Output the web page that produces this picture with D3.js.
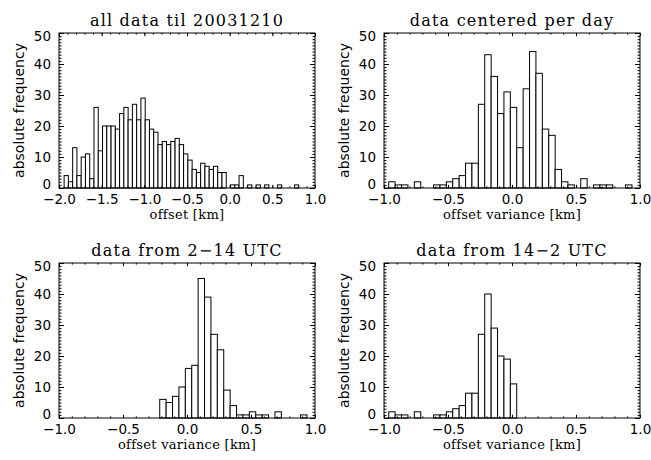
<!DOCTYPE html>
<html>
<head>
<meta charset="utf-8">
<script src="https://cdn.jsdelivr.net/npm/d3@7"></script>
<style>
  html, body { margin: 0; padding: 0; background: #fff; }
  svg { display: block; }
</style>
</head>
<body>
<svg id="chart" width="651" height="460"></svg>
<script>
// Histogram counts of the offset, one value per 0.05 km bin.
const binWidth = 0.05;

// all data til 20031210 (offset, km)
const allStart = -1.94;
const allCounts = [4, 2, 13, 4, 10, 11, 3, 26, 12, 20, 20, 20, 19, 24, 26, 22, 27, 22, 29, 22,
                   19, 18, 14, 15, 14, 15, 16, 14, 11, 9, 6, 5, 8, 7, 6, 7, 5, 5, 0, 1,
                   1, 4, 0, 1, 0, 1, 0, 1, 0, 0, 1, 0, 0, 0, 1];

// data centered per day (offset variance, km)
const centeredStart = -0.963;
const centeredCounts = [2, 1, 1, 0, 2, 0, 0, 1, 1, 2, 3, 4, 8, 8, 27, 43, 36, 24, 31, 26,
                        13, 32, 44, 37, 19, 17, 6, 2, 1, 0, 3, 0, 1, 1, 1, 0, 0, 1];

// data from 2-14 UTC
const dayStart = -0.213;
const dayCounts = [6, 5, 7, 10, 16, 17, 45, 39, 27, 22, 9, 4, 1, 1, 2, 1, 1, 0, 2, 0, 0, 0, 1];

// data from 14-2 UTC
const nightStart = -0.963;
const nightCounts = [2, 1, 1, 0, 2, 0, 0, 1, 1, 2, 3, 4, 8, 8, 27, 40, 29, 20, 19, 11];

const panelTitles = ["all data til 20031210", "data centered per day",
                     "data from 2\u221214 UTC", "data from 14\u22122 UTC"];
const xTitles = ["offset [km]", "offset variance [km]", "offset variance [km]", "offset variance [km]"];
const yTitle = "absolute frequency";

const xTicksWide = [-2.0, -1.5, -1.0, -0.5, 0.0, 0.5, 1.0];
const xTicksNarrow = [-1.0, -0.5, 0.0, 0.5, 1.0];
const yTicks = [0, 10, 20, 30, 40, 50];

const panels = [
  { title: panelTitles[0], xTitle: xTitles[0], start: allStart, counts: allCounts,
    domain: [-2, 1], ticks: xTicksWide, col: 0, row: 0 },
  { title: panelTitles[1], xTitle: xTitles[1], start: centeredStart, counts: centeredCounts,
    domain: [-1, 1], ticks: xTicksNarrow, col: 1, row: 0 },
  { title: panelTitles[2], xTitle: xTitles[2], start: dayStart, counts: dayCounts,
    domain: [-1, 1], ticks: xTicksNarrow, col: 0, row: 1 },
  { title: panelTitles[3], xTitle: xTitles[3], start: nightStart, counts: nightCounts,
    domain: [-1, 1], ticks: xTicksNarrow, col: 1, row: 1 }
];

// layout of one cell of the 2x2 grid
const cellW = 325, cellH = 230;
const L = 59, R = 315, T = 33, B = 188;
const ink = "#000";
const sans = "'DejaVu Sans', sans-serif";
const serif = "'DejaVu Serif', serif";

const svg = d3.select("#chart");
const fmt = d3.format(".1f");

function minorValues(domain, step) {
  const n = Math.round((domain[1] - domain[0]) / step);
  return d3.range(n + 1).map(i => +(domain[0] + i * step).toFixed(6));
}

panels.forEach(p => {
  const g = svg.append("g")
    .attr("transform", `translate(${p.col * cellW},${p.row * cellH})`);

  const x = d3.scaleLinear().domain(p.domain).range([L, R]);
  const y = d3.scaleLinear().domain([0, 50]).range([B, T]);

  const bins = p.counts.map((c, i) => ({
    x0: p.start + i * binWidth,
    x1: p.start + (i + 1) * binWidth,
    c
  }));

  // histogram boxes
  g.append("g").selectAll("rect")
    .data(bins)
    .join("rect")
    .attr("x", d => x(d.x0))
    .attr("width", d => x(d.x1) - x(d.x0))
    .attr("y", d => y(d.c))
    .attr("height", d => y(0) - y(d.c))
    .attr("fill", "#fff")
    .attr("stroke", ink)
    .attr("stroke-width", 1);

  // plot frame
  g.append("rect")
    .attr("x", L).attr("y", T)
    .attr("width", R - L).attr("height", B - T)
    .attr("fill", "none")
    .attr("stroke", ink)
    .attr("stroke-width", 1);

  const styleAxis = sel => {
    sel.select(".domain").remove();
    sel.selectAll(".tick line").attr("stroke", ink);
    sel.selectAll("text")
      .attr("fill", ink)
      .style("font-family", sans)
      .style("font-size", "13.5px");
  };

  const xMinor = minorValues(p.domain, 0.1);
  const yMinor = d3.range(0, 51, 1);

  // bottom axis: labelled majors + minors, ticks point inward
  g.append("g").attr("transform", `translate(0,${B})`)
    .call(d3.axisBottom(x).tickValues(xMinor).tickSize(-1.6).tickFormat(""))
    .call(styleAxis);
  g.append("g").attr("transform", `translate(0,${B})`)
    .call(d3.axisBottom(x).tickValues(p.ticks).tickSize(-3.2).tickPadding(6.5).tickFormat(fmt))
    .call(styleAxis);

  // top axis
  g.append("g").attr("transform", `translate(0,${T})`)
    .call(d3.axisTop(x).tickValues(xMinor).tickSize(-1.6).tickFormat(""))
    .call(styleAxis);
  g.append("g").attr("transform", `translate(0,${T})`)
    .call(d3.axisTop(x).tickValues(p.ticks).tickSize(-3.2).tickFormat(""))
    .call(styleAxis);

  // left axis
  g.append("g").attr("transform", `translate(${L},0)`)
    .call(d3.axisLeft(y).tickValues(yMinor).tickSize(-2.5).tickFormat(""))
    .call(styleAxis);
  const yAx = g.append("g").attr("transform", `translate(${L},0)`)
    .call(d3.axisLeft(y).tickValues(yTicks).tickSize(-5).tickPadding(8).tickFormat(d3.format("d")))
    .call(styleAxis);
  // keep the end labels within the frame height
  yAx.selectAll(".tick text")
    .attr("y", d => d === 0 ? -3.5 : (d === 50 ? 3.5 : 0));

  // right axis
  g.append("g").attr("transform", `translate(${R},0)`)
    .call(d3.axisRight(y).tickValues(yMinor).tickSize(-2.5).tickFormat(""))
    .call(styleAxis);
  g.append("g").attr("transform", `translate(${R},0)`)
    .call(d3.axisRight(y).tickValues(yTicks).tickSize(-5).tickFormat(""))
    .call(styleAxis);

  // titles
  g.append("text")
    .attr("x", (L + R) / 2).attr("y", 26)
    .attr("text-anchor", "middle")
    .style("font-family", serif)
    .style("font-size", "16px")
    .style("letter-spacing", "1.2px")
    .attr("fill", ink)
    .text(p.title);

  g.append("text")
    .attr("x", (L + R) / 2).attr("y", B + 31)
    .attr("text-anchor", "middle")
    .style("font-family", serif)
    .style("font-size", "13px")
    .style("letter-spacing", "0.3px")
    .attr("fill", ink)
    .text(p.xTitle);

  g.append("text")
    .attr("transform", `translate(24,${(T + B) / 2}) rotate(-90)`)
    .attr("text-anchor", "middle")
    .style("font-family", sans)
    .style("font-size", "14px")
    .attr("fill", ink)
    .text(yTitle);
});
</script>
</body>
</html>
